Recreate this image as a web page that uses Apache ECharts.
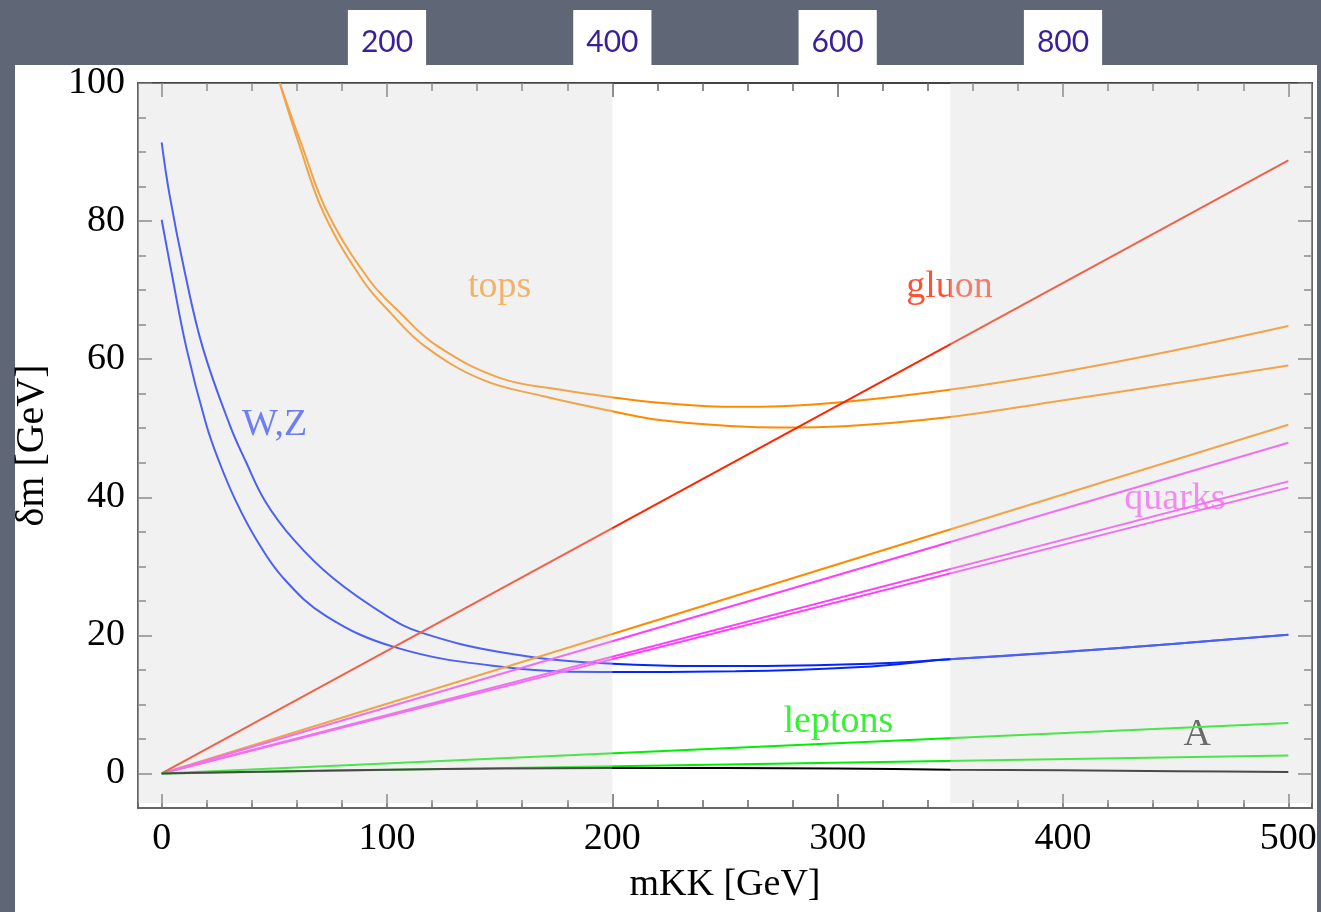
<!DOCTYPE html>
<html>
<head>
<meta charset="utf-8">
<script src="https://cdn.jsdelivr.net/npm/echarts@6/dist/echarts.min.js"></script>
<style>
html, body { margin: 0; padding: 0; background: #5f6676; }
#panel { position: absolute; left: 15px; top: 65px; width: 1302px; height: 847px; background: #fff; }
#main { position: absolute; left: 0; top: 0; width: 1321px; height: 912px; }
</style>
</head>
<body>
<div id="panel"></div>
<div id="main"></div>
<script>
// ticks
var xMajor = [0, 100, 200, 300, 400, 500];
var xMinor = [20, 40, 60, 80, 120, 140, 160, 180, 220, 240, 260, 280, 320, 340, 360, 380, 420, 440, 460, 480];
var yMajor = [0, 20, 40, 60, 80, 100];
var yMinor = [5, 10, 15, 25, 30, 35, 45, 50, 55, 65, 70, 75, 85, 90, 95];
var topTickValues = [100, 200, 300, 400];
var topTickLabels = ['200', '400', '600', '800'];

// curves [mKK, dm]
var wzUpper = [[0, 91.4], [3.5, 83.8], [10.2, 72.7], [18.3, 61.6], [30.2, 50.5], [37.6, 45.0], [46, 39.4], [58.5, 33.9], [76, 28.3], [100, 22.8], [115.2, 20.4], [150, 17.6], [194.3, 16.0], [254.6, 15.55], [314.9, 15.9], [348, 16.5], [400, 17.6], [450, 18.8], [500, 20.1]];
var wzLower = [[0, 80.2], [4.3, 72.7], [11, 61.6], [19.8, 50.5], [25.7, 45.0], [33, 39.4], [42, 33.9], [54, 28.3], [73, 22.8], [103.4, 18.3], [147, 15.6], [194.3, 14.7], [254.6, 14.8], [314.9, 15.5], [348, 16.5], [400, 17.6], [450, 18.8], [500, 20.1]];
var topsUpper = [[52.4, 100], [62.4, 90.8], [73.8, 81.1], [92.3, 71.4], [105.6, 66.8], [121.9, 62.0], [150, 57.3], [176.6, 55.6], [199.5, 54.5], [220.9, 53.7], [254.6, 53.1], [274.6, 53.2], [302.8, 53.8], [348, 55.5], [395.2, 57.9], [445.4, 61.0], [500, 64.8]];
var topsLower = [[52.4, 100], [61.3, 90.8], [72, 81.1], [89.3, 71.4], [101.9, 66.6], [116.7, 61.9], [142.5, 57.0], [170, 54.6], [199.5, 52.5], [220.9, 51.2], [254.6, 50.3], [274.6, 50.1], [302.8, 50.3], [348, 51.55], [395.2, 53.8], [445.4, 56.3], [500, 59.1]];
var topsLinear = [[0, 0], [500, 50.5]];
var gluon = [[0, 0], [500, 88.8]];
var quarks1 = [[0, 0], [500, 47.9]];
var quarks2 = [[0, 0], [500, 42.3]];
var quarks3 = [[0, 0], [500, 41.4]];
var leptons1 = [[0, 0], [500, 7.3]];
var leptons2 = [[0, 0], [500, 2.6]];
var higgsA = [[0, 0], [50, 0.3], [100, 0.55], [150, 0.72], [200, 0.8], [250, 0.8], [300, 0.72], [350, 0.55], [400, 0.45], [450, 0.33], [500, 0.2]];

// annotation text anchors [text, mKK, dm]
var annotations = [['tops', 150, 70.5], ['gluon', 349.6, 70.4], ['W,Z', 50.1, 50.4], ['quarks', 449.7, 39.8], ['leptons', 300.3, 7.4], ['A', 459.6, 5.5]];
var shadedBands = [[-10.5, 200], [350, 510.5]];

var colors = { tops: '#ff8a00', gluon: '#ff2400', 'W,Z': '#0525ff', quarks: '#ff3cff', leptons: '#00ee00', A: '#000000' };

var serif = 'Liberation Serif';
var frameColor = '#666';

function line(data, color, smooth) {
    return {
        type: 'line', data: data, showSymbol: false, symbol: 'none',
        smooth: smooth || false,
        lineStyle: { color: color, width: 2 },
        itemStyle: { color: color }, silent: true, animation: false
    };
}

function valueAxis(position, ticks, tickLen, extra) {
    var isX = position === 'top' || position === 'bottom';
    var ax = {
        type: 'value', position: position,
        min: isX ? -10.5 : -5, max: isX ? 510.5 : 100,
        splitLine: { show: false },
        axisLine: { show: false, onZero: false },
        axisTick: { show: true, inside: true, length: tickLen, customValues: ticks, lineStyle: { color: frameColor, width: 1.5 } },
        axisLabel: { show: false }
    };
    return Object.assign(ax, extra || {});
}

var frameLine = { show: true, onZero: false, lineStyle: { color: frameColor, width: 2 } };

var myChart = echarts.init(document.getElementById('main'));

var series = [
    line(wzUpper, colors['W,Z'], 0.4),
    line(wzLower, colors['W,Z'], 0.4),
    line(topsUpper, colors.tops, 0.4),
    line(topsLower, colors.tops, 0.4),
    line(topsLinear, colors.tops),
    line(quarks1, colors.quarks),
    line(quarks2, colors.quarks),
    line(quarks3, colors.quarks),
    line(gluon, colors.gluon),
    line(leptons1, colors.leptons),
    line(leptons2, colors.leptons),
    line(higgsA, colors.A, 0.3)
];

series.push({
    type: 'scatter', symbolSize: 0, silent: true, animation: false,
    data: annotations.map(function (a) {
        return {
            value: [a[1], a[2]],
            label: { show: true, position: 'inside', formatter: a[0], color: colors[a[0]], fontFamily: serif, fontSize: 38 }
        };
    }),
    markArea: {
        silent: true, z: 10,
        itemStyle: { color: 'rgba(214,214,214,0.34)' },
        data: shadedBands.map(function (b) {
            return [{ coord: [b[0], -4.3] }, { coord: [b[1], 100] }];
        })
    }
});

var option = {
    backgroundColor: 'transparent',
    animation: false,
    grid: { left: 138, right: 9, top: 83, bottom: 104 },
    xAxis: [
        valueAxis('bottom', xMajor, 14, {
            axisLine: frameLine,
            axisLabel: { show: true, customValues: xMajor, margin: 12, fontFamily: serif, fontSize: 38, color: '#000' },
            name: 'mKK [GeV]', nameLocation: 'middle', nameGap: 58,
            nameTextStyle: { fontFamily: serif, fontSize: 38, color: '#000' }
        }),
        valueAxis('bottom', xMinor, 8),
        valueAxis('top', xMajor, 14, {
            axisLine: { show: true, onZero: false, lineStyle: { color: '#444', width: 2 } },
            axisLabel: {
                show: true, customValues: topTickValues, margin: 2,
                formatter: function (v) { return topTickLabels[topTickValues.indexOf(v)]; },
                backgroundColor: '#fff', padding: [17.5, 13, 23.5, 13],
                fontFamily: 'Lato', fontSize: 30, lineHeight: 30, color: '#3a1f9a'
            }
        }),
        valueAxis('top', xMinor, 8)
    ],
    yAxis: [
        valueAxis('left', yMajor, 14, {
            axisLine: frameLine,
            axisLabel: { show: true, customValues: yMajor, margin: 13, fontFamily: serif, fontSize: 38, color: '#000' },
            name: 'δm [GeV]', nameLocation: 'middle', nameGap: 86,
            nameTextStyle: { fontFamily: serif, fontSize: 40, color: '#000' }
        }),
        valueAxis('left', yMinor, 8),
        valueAxis('right', yMajor, 14, { axisLine: frameLine }),
        valueAxis('right', yMinor, 8)
    ],
    series: series
};

myChart.setOption(option);
</script>
</body>
</html>
